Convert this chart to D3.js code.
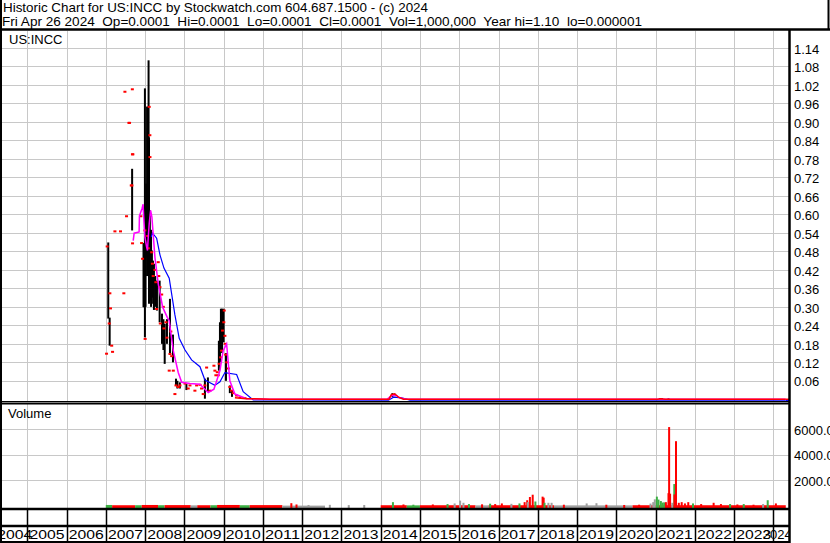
<!DOCTYPE html>
<meta charset="utf-8">
<style>
  body { margin: 0; background: #fff; }
  svg text { font-family: "Liberation Sans", Arial, sans-serif; fill: #000; }
</style>
<body>
<script src="https://cdn.jsdelivr.net/npm/d3@7"></script>
<script>

// ---- data ----

var headerLine1 = "Historic Chart for US:INCC by Stockwatch.com 604.687.1500 - (c) 2024";
var headerLine2 = "Fri Apr 26 2024  Op=0.0001  Hi=0.0001  Lo=0.0001  Cl=0.0001  Vol=1,000,000  Year hi=1.10  lo=0.000001";
var symbol = "US:INCC";

var priceTicks = [0.06,0.12,0.18,0.24,0.30,0.36,0.42,0.48,0.54,0.60,0.66,0.72,0.78,0.84,0.90,0.96,1.02,1.08,1.14];
var volumeTicks = [2000, 4000, 6000];
var years = [2004,2005,2006,2007,2008,2009,2010,2011,2012,2013,2014,2015,2016,2017,2018,2019,2020,2021,2022,2023,2024];

// high / low bars  [date, high, low]
var hiLoBars = [
  ["2007-01-24",0.509,0.262], ["2007-02-06",0.265,0.174],
  ["2007-09-03",0.748,0.548],
  ["2007-12-18",0.507,0.299], ["2007-12-24",0.420,0.299], ["2007-12-31",1.009,0.201],
  ["2008-01-06",0.62,0.30], ["2008-01-12",0.70,0.46], ["2008-01-20",0.95,0.40],
  ["2008-01-27",0.88,0.42], ["2008-02-03",1.100,0.70], ["2008-02-07",0.85,0.31],
  ["2008-02-15",0.613,0.32], ["2008-02-26",0.55,0.30], ["2008-03-05",0.483,0.31],
  ["2008-03-15",0.45,0.33], ["2008-03-24",0.44,0.29], ["2008-04-05",0.40,0.30],
  ["2008-04-21",0.385,0.288], ["2008-05-16",0.385,0.25], ["2008-06-07",0.278,0.18],
  ["2008-06-20",0.26,0.16], ["2008-07-02",0.245,0.115], ["2008-07-23",0.26,0.18],
  ["2008-08-20",0.326,0.147], ["2008-09-17",0.21,0.12], ["2008-10-15",0.067,0.044],
  ["2008-10-28",0.06,0.035], ["2008-11-20",0.055,0.035], ["2009-01-20",0.05,0.03],
  ["2009-07-11",0.067,0.002], ["2009-08-08",0.071,0.025],
  ["2009-11-18",0.19,0.093], ["2009-11-28",0.25,0.12], ["2009-12-07",0.294,0.158],
  ["2009-12-18",0.294,0.15], ["2010-01-01",0.294,0.185], ["2010-01-23",0.15,0.06],
  ["2010-02-28",0.045,0.02], ["2010-03-20",0.03,0.008],
  ["2014-04-20",0.020,0.008], ["2014-05-15",0.018,0.010],
  ["2021-02-10",0.004,0.0005], ["2021-03-01",0.004,0.001], ["2021-05-01",0.003,0.0005]
];

// closing ticks  [date, close]
var closeTicks = [
  ["2007-01-08",0.148], ["2007-01-14",0.496], ["2007-02-02",0.246], ["2007-02-08",0.344],
  ["2007-02-14",0.295], ["2007-02-25",0.174], ["2007-03-05",0.154], ["2007-03-27",0.545],
  ["2007-05-18",0.545], ["2007-06-18",0.344], ["2007-06-28",0.998], ["2007-07-13",0.594],
  ["2007-08-04",0.897], ["2007-08-10",0.897], ["2007-08-26",0.694], ["2007-09-01",0.694],
  ["2007-09-06",0.795], ["2007-09-10",0.795], ["2007-09-05",1.006], ["2007-09-07",0.506],
  ["2007-11-23",0.594], ["2007-11-30",0.507], ["2007-12-09",0.456], ["2007-12-31",0.548],
  ["2008-01-02",0.196], ["2008-02-09",0.949], ["2008-02-15",0.857], ["2008-02-16",0.786],
  ["2008-01-25",0.53], ["2008-02-01",0.49], ["2008-03-03",0.477], ["2008-03-10",0.44],
  ["2008-03-17",0.40], ["2008-04-02",0.42], ["2008-04-11",0.38], ["2008-05-03",0.445],
  ["2008-05-08",0.40], ["2008-04-18",0.293], ["2008-05-19",0.364], ["2008-06-04",0.34],
  ["2008-06-19",0.30], ["2008-05-22",0.246], ["2008-06-25",0.23], ["2008-07-14",0.25],
  ["2008-07-23",0.20], ["2008-08-20",0.147], ["2008-08-28",0.22], ["2008-08-13",0.093],
  ["2008-09-05",0.14], ["2008-09-20",0.093], ["2008-10-05",0.017], ["2008-10-15",0.045],
  ["2008-11-05",0.04], ["2008-11-21",0.045], ["2009-01-07",0.051], ["2009-02-06",0.035],
  ["2009-02-22",0.045], ["2009-04-09",0.028], ["2009-04-25",0.045], ["2009-05-26",0.047],
  ["2009-06-10",0.035], ["2009-06-25",0.017], ["2009-07-11",0.045], ["2009-07-27",0.103],
  ["2009-08-27",0.028], ["2009-10-03",0.109], ["2009-10-12",0.093], ["2009-10-21",0.078],
  ["2009-11-03",0.088], ["2009-11-12",0.078], ["2009-11-21",0.115], ["2009-12-04",0.136],
  ["2009-12-13",0.158], ["2009-12-22",0.223], ["2010-01-07",0.288], ["2010-01-03",0.25],
  ["2010-01-13",0.206], ["2010-01-16",0.18], ["2010-01-20",0.145], ["2010-01-29",0.12],
  ["2010-02-13",0.10], ["2010-02-28",0.04], ["2010-03-16",0.028], ["2010-03-31",0.02],
  ["2010-05-02",0.012], ["2010-06-02",0.006], ["2010-07-18",0.004]
];

// close line for the long flat tail  [date, close]
var closeTail = [
  ["2010-04-16",0.005], ["2010-08-03",0.002], ["2011-03-07",0.0005], ["2014-03-20",0.0003],
  ["2014-04-10",0.015], ["2014-05-10",0.018], ["2014-06-20",0.006], ["2014-08-01",0.0003],
  ["2021-01-20",0.0003], ["2021-02-15",0.002], ["2021-04-01",0.0005], ["2024-04-26",0.0001]
];

// short moving average (magenta)  [date, value]
var maShort = [
  ["2007-09-13",0.515], ["2007-09-22",0.539], ["2007-11-07",0.543], ["2007-11-10",0.595],
  ["2007-12-05",0.620], ["2007-12-14",0.633], ["2007-12-20",0.591], ["2007-12-31",0.526],
  ["2008-01-16",0.494], ["2008-01-24",0.483], ["2008-01-31",0.526], ["2008-02-09",0.570],
  ["2008-02-22",0.613], ["2008-03-05",0.591], ["2008-04-02",0.461], ["2008-05-03",0.375],
  ["2008-06-13",0.299], ["2008-07-26",0.266], ["2008-08-13",0.255], ["2008-09-20",0.158],
  ["2008-11-05",0.087], ["2008-12-07",0.055], ["2009-02-22",0.051], ["2009-05-26",0.049],
  ["2009-08-11",0.022], ["2009-10-03",0.033], ["2009-11-28",0.093], ["2009-12-28",0.158],
  ["2010-01-29",0.180], ["2010-02-28",0.060], ["2010-04-16",0.017], ["2010-08-03",0.002],
  ["2011-03-07",0.0005], ["2014-03-01",0.0003], ["2014-04-10",0.012], ["2014-05-20",0.014],
  ["2014-07-01",0.004], ["2014-09-01",0.0003], ["2024-04-26",0.0001]
];

// long moving average (blue)  [date, value]
var maLong = [
  ["2008-02-28",0.530], ["2008-03-10",0.543], ["2008-04-18",0.526], ["2008-05-19",0.472],
  ["2008-06-25",0.429], ["2008-08-13",0.396], ["2008-10-05",0.277], ["2008-11-14",0.201],
  ["2009-01-07",0.163], ["2009-03-09",0.131], ["2009-05-26",0.109], ["2009-07-11",0.066],
  ["2009-10-12",0.049], ["2009-11-28",0.060], ["2010-01-13",0.090], ["2010-05-02",0.084],
  ["2010-07-02",0.028], ["2010-10-03",0.001], ["2014-03-15",0.0003], ["2014-05-01",0.010],
  ["2014-07-15",0.008], ["2014-10-01",0.0005], ["2024-04-26",0.0001]
];

// low-volume runs  [from, to, volume, direction]  u=up d=down f=flat
var volumeRuns = [
  ["2007-01-01","2007-03-01",80,"u"], ["2007-03-01","2007-10-01",60,"d"],
  ["2007-10-01","2007-12-01",60,"u"], ["2007-12-01","2008-05-01",80,"d"],
  ["2008-05-01","2008-07-01",60,"u"], ["2008-07-01","2009-03-01",70,"d"],
  ["2009-03-01","2009-05-01",50,"f"], ["2009-05-01","2009-09-01",60,"d"],
  ["2009-09-01","2009-11-01",60,"u"], ["2009-11-01","2010-06-01",80,"d"],
  ["2010-06-01","2010-09-01",60,"u"], ["2010-09-01","2011-07-01",70,"d"],
  ["2011-07-01","2012-08-01",30,"f"],
  ["2014-01-01","2014-09-01",60,"d"], ["2014-09-01","2015-01-01",50,"u"],
  ["2015-01-01","2016-06-01",60,"d"], ["2016-06-01","2016-10-01",50,"f"],
  ["2016-10-01","2018-06-01",60,"d"], ["2018-06-01","2020-06-01",50,"f"],
  ["2020-06-01","2024-04-26",60,"d"]
];

// individual volume bars  [date, volume, direction]
var volumeBars = [
  ["2011-09-23",220,"d"], ["2011-11-10",120,"d"], ["2012-03-01",80,"f"], ["2012-09-15",90,"f"],
  ["2013-03-10",70,"f"], ["2013-08-01",80,"f"], ["2014-04-25",300,"u"], ["2014-08-01",120,"d"],
  ["2014-11-01",100,"u"], ["2015-05-01",120,"d"], ["2015-09-15",150,"u"], ["2015-11-20",200,"f"],
  ["2016-01-10",420,"f"], ["2016-02-10",250,"f"], ["2016-04-01",150,"u"], ["2016-08-01",130,"d"],
  ["2016-10-15",180,"u"], ["2016-12-01",150,"d"], ["2017-02-01",200,"d"], ["2017-05-01",170,"f"],
  ["2017-07-15",200,"u"], ["2017-09-01",300,"d"], ["2017-09-25",450,"d"], ["2017-10-01",300,"f"],
  ["2017-10-20",700,"d"], ["2017-11-15",880,"d"], ["2017-12-10",350,"u"], ["2018-02-15",730,"d"],
  ["2018-02-25",650,"d"], ["2018-03-05",250,"u"], ["2018-04-10",250,"f"], ["2018-05-10",250,"f"],
  ["2018-09-01",100,"d"], ["2019-04-01",200,"f"], ["2019-07-01",220,"f"], ["2019-10-01",100,"d"],
  ["2020-03-15",80,"d"], ["2020-08-01",100,"d"], ["2020-11-15",190,"f"], ["2020-12-10",300,"f"],
  ["2020-12-25",520,"f"], ["2021-01-13",730,"u"], ["2021-01-28",500,"u"], ["2021-02-19",385,"u"],
  ["2021-03-06",270,"u"], ["2021-03-22",280,"u"], ["2021-04-07",300,"d"], ["2021-05-01",1000,"d"],
  ["2021-05-07",6150,"d"], ["2021-05-16",960,"d"], ["2021-06-05",250,"f"], ["2021-06-24",1710,"u"],
  ["2021-06-26",900,"d"], ["2021-07-10",5050,"d"], ["2021-08-05",250,"d"], ["2021-09-01",300,"d"],
  ["2021-10-01",200,"d"], ["2021-11-01",300,"d"], ["2021-12-15",200,"u"], ["2022-03-01",150,"d"],
  ["2022-06-25",250,"d"], ["2022-09-01",150,"d"], ["2022-11-25",150,"u"], ["2023-02-01",120,"d"],
  ["2023-04-01",150,"u"], ["2023-07-01",100,"d"], ["2023-09-28",150,"f"], ["2023-11-10",450,"u"],
  ["2024-01-25",200,"d"]
];

// ---- layout ----

var width = 830, height = 543;
var plotLeft = 2, plotRight = 789;
var priceTop = 31, priceBottom = 401;
var volTop = 403, volBottom = 508;
var axisTop = 509, axisMid = 526, axisBottom = 542;

var parse = d3.timeParse("%Y-%m-%d");

var x = d3.scaleTime()
  .domain([new Date(2005,0,1), new Date(2024,0,1)])
  .range([27.3, 773.3]);

var yPrice = d3.scaleLinear().domain([0, 1.14]).range([399.3, 48]);
var yVol = d3.scaleLinear().domain([0, 6000]).range([506, 429]);

var dirColor = { "u": "#3cb043", "d": "#ff0000", "f": "#a0a0a0" };

var svg = d3.select("body").append("svg")
  .attr("width", width)
  .attr("height", height);

var defs = svg.append("defs");
defs.append("clipPath").attr("id","clipPrice").append("rect")
  .attr("x", plotLeft).attr("y", priceTop).attr("width", plotRight-plotLeft).attr("height", priceBottom-priceTop);
defs.append("clipPath").attr("id","clipVol").append("rect")
  .attr("x", plotLeft).attr("y", volTop).attr("width", plotRight-plotLeft).attr("height", volBottom-volTop);
defs.append("clipPath").attr("id","clipAxis").append("rect")
  .attr("x", 0).attr("y", axisTop).attr("width", plotRight+1).attr("height", axisBottom-axisTop);

// ---- header ----
svg.append("text").attr("x", 3).attr("y", 12).style("font-size","13.5px")
  .style("white-space","pre")
  .attr("textLength", 425).attr("lengthAdjust", "spacingAndGlyphs")
  .text(headerLine1);
svg.append("text").attr("x", 2).attr("y", 26).style("font-size","13.5px")
  .style("white-space","pre")
  .attr("textLength", 640).attr("lengthAdjust", "spacingAndGlyphs")
  .text(headerLine2);

// ---- grid lines ----
var grid = svg.append("g").attr("stroke", "#c8c8c8").attr("stroke-width", 1);

var yearStarts = years.map(y => new Date(y,0,1)).filter(d => x(d) > plotLeft && x(d) < plotRight);

grid.selectAll(".vp").data(yearStarts).enter().append("line")
  .attr("x1", d => Math.round(x(d))+0.5).attr("x2", d => Math.round(x(d))+0.5)
  .attr("y1", priceTop).attr("y2", priceBottom);
grid.selectAll(".vv").data(yearStarts).enter().append("line")
  .attr("x1", d => Math.round(x(d))+0.5).attr("x2", d => Math.round(x(d))+0.5)
  .attr("y1", volTop).attr("y2", volBottom);

grid.selectAll(".hp").data(priceTicks).enter().append("line")
  .attr("x1", plotLeft).attr("x2", plotRight)
  .attr("y1", d => Math.round(yPrice(d))+0.5).attr("y2", d => Math.round(yPrice(d))+0.5);
grid.selectAll(".hv").data(volumeTicks).enter().append("line")
  .attr("x1", plotLeft).attr("x2", plotRight)
  .attr("y1", d => Math.round(yVol(d))+0.5).attr("y2", d => Math.round(yVol(d))+0.5);

// ---- price panel ----
var gp = svg.append("g").attr("clip-path", "url(#clipPrice)");

gp.selectAll(".bar").data(hiLoBars).enter().append("rect")
  .attr("x", d => x(parse(d[0])) - 1)
  .attr("width", 2)
  .attr("y", d => yPrice(d[1]))
  .attr("height", d => Math.max(1, yPrice(d[2]) - yPrice(d[1])))
  .attr("fill", "#000");

gp.selectAll(".cl").data(closeTicks).enter().append("rect")
  .attr("x", d => x(parse(d[0])) - 1.5)
  .attr("width", 3)
  .attr("y", d => yPrice(d[1]) - 1)
  .attr("height", 2)
  .attr("fill", "#ff0000");

var line = d3.line().x(d => x(parse(d[0]))).y(d => yPrice(d[1]));

gp.append("path").datum(maLong)
  .attr("d", d3.line().x(d => x(parse(d[0]))).y(d => yPrice(d[1]) + 1))
  .attr("fill","none").attr("stroke","#0000ff").attr("stroke-width",1.2);

gp.append("path").datum(maShort)
  .attr("d", line)
  .attr("fill","none").attr("stroke","#ff00ff").attr("stroke-width",1.5);

gp.append("path").datum(closeTail)
  .attr("d", line)
  .attr("fill","none").attr("stroke","#ff0000").attr("stroke-width",1.5);

// extend the last close to the panel edge
var lastClose = closeTail[closeTail.length-1];
gp.append("line")
  .attr("x1", x(parse(lastClose[0]))).attr("x2", plotRight)
  .attr("y1", yPrice(lastClose[1])).attr("y2", yPrice(lastClose[1]))
  .attr("stroke","#ff0000").attr("stroke-width",1.5);
gp.append("line")
  .attr("x1", x(parse(lastClose[0]))).attr("x2", plotRight)
  .attr("y1", yPrice(lastClose[1])+1.2).attr("y2", yPrice(lastClose[1])+1.2)
  .attr("stroke","#0000ff").attr("stroke-width",1);

svg.append("text").attr("x", 9).attr("y", 44).style("font-size","13px").text(symbol);

// ---- volume panel ----
var gv = svg.append("g").attr("clip-path", "url(#clipVol)");

gv.selectAll(".run").data(volumeRuns).enter().append("rect")
  .attr("x", d => x(parse(d[0])))
  .attr("width", d => x(parse(d[1])) - x(parse(d[0])))
  .attr("y", d => yVol(d[2]))
  .attr("height", d => volBottom - yVol(d[2]))
  .attr("fill", d => dirColor[d[3]]);

gv.selectAll(".vb").data(volumeBars).enter().append("rect")
  .attr("x", d => x(parse(d[0])) - 1)
  .attr("width", 2)
  .attr("y", d => yVol(d[1]))
  .attr("height", d => volBottom - yVol(d[1]))
  .attr("fill", d => dirColor[d[2]]);

svg.append("text").attr("x", 8).attr("y", 418).style("font-size","13px").text("Volume");

// ---- right axes ----
var priceAxis = d3.axisRight(yPrice).tickValues(priceTicks)
  .tickFormat(d3.format(".2f")).tickSize(0).tickPadding(5);
svg.append("g").attr("transform", `translate(${plotRight},1)`).call(priceAxis)
  .call(g => g.select(".domain").remove())
  .selectAll("text").style("font-size","13px").attr("font-family", null);

var volAxis = d3.axisRight(yVol).tickValues(volumeTicks)
  .tickFormat(d3.format(".1f")).tickSize(0).tickPadding(5);
svg.append("g").attr("transform", `translate(${plotRight},1)`).call(volAxis)
  .call(g => g.select(".domain").remove())
  .selectAll("text").style("font-size","13px").attr("font-family", null);

// ---- time axis ----
var ga = svg.append("g");
ga.selectAll(".tl").data(yearStarts).enter().append("line")
  .attr("x1", d => Math.round(x(d))+0.5).attr("x2", d => Math.round(x(d))+0.5)
  .attr("y1", axisTop).attr("y2", axisBottom)
  .attr("stroke", "#000").attr("stroke-width", 1.5);

ga.append("g").attr("clip-path","url(#clipAxis)")
  .selectAll("text").data(years).enter().append("text")
  .attr("x", function(y) {
    var a = Math.max(plotLeft, x(new Date(y,0,1)));
    var b = Math.min(plotRight, x(new Date(y+1,0,1)));
    // the last, partial year label sits a little to the left so it is mostly visible
    return (a + b) / 2 - (x(new Date(y+1,0,1)) > plotRight ? 4 : 0);
  })
  .attr("y", 539)
  .attr("text-anchor", "middle")
  .attr("textLength", y => (x(new Date(y+1,0,1)) > plotRight ? null : 35))
  .attr("lengthAdjust", "spacingAndGlyphs")
  .style("font-size","13px")
  .text(d => d);

// ---- frame ----
var frame = svg.append("g").attr("stroke", "#000").attr("fill", "none");
frame.append("line").attr("x1",0).attr("x2",width).attr("y1",29.5).attr("y2",29.5).attr("stroke-width",2.5);
frame.append("line").attr("x1",1).attr("x2",1).attr("y1",0).attr("y2",height).attr("stroke-width",2);
frame.append("line").attr("x1",828.5).attr("x2",828.5).attr("y1",0).attr("y2",30).attr("stroke-width",2);
frame.append("line").attr("x1",plotRight+0.5).attr("x2",plotRight+0.5).attr("y1",29).attr("y2",height).attr("stroke-width",2.5);
frame.append("line").attr("x1",0).attr("x2",plotRight).attr("y1",401.5).attr("y2",401.5).attr("stroke-width",1);
frame.append("line").attr("x1",0).attr("x2",plotRight).attr("y1",403.5).attr("y2",403.5).attr("stroke-width",2);
frame.append("line").attr("x1",0).attr("x2",plotRight).attr("y1",axisTop).attr("y2",axisTop).attr("stroke-width",2.5);
frame.append("line").attr("x1",0).attr("x2",plotRight).attr("y1",axisMid).attr("y2",axisMid).attr("stroke-width",2.5);
frame.append("line").attr("x1",0).attr("x2",plotRight).attr("y1",axisBottom).attr("y2",axisBottom).attr("stroke-width",2);

</script>
</body>
